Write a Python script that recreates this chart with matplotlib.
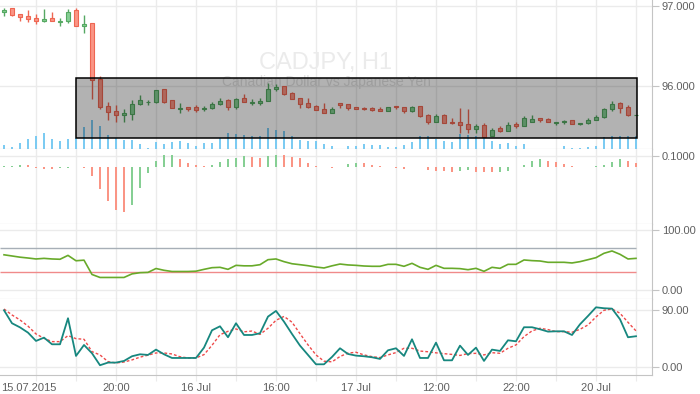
import numpy as np
import matplotlib
matplotlib.use("Agg")
import matplotlib.pyplot as plt
from matplotlib.patches import Rectangle
from matplotlib.ticker import FormatStrFormatter
import matplotlib.transforms as mtransforms

plt.rcParams["font.family"] = ["Liberation Sans", "DejaVu Sans"]

# CADJPY H1 candles
opens = [96.921, 96.971, 96.896, 96.871, 96.846, 96.809, 96.846, 96.803, 96.809, 96.946,
         96.746, 96.784, 96.084, 95.746, 95.684, 95.634, 95.646, 95.771, 95.796, 95.796,
         95.959, 95.821, 95.718, 95.734, 95.734, 95.709, 95.721, 95.771, 95.821, 95.734,
         95.846, 95.793, 95.784, 95.809, 95.959, 95.996, 95.909, 95.846, 95.784, 95.746,
         95.709, 95.659, 95.784, 95.771, 95.734, 95.721, 95.721, 95.709, 95.684, 95.746,
         95.734, 95.684, 95.746, 95.634, 95.546, 95.634, 95.546, 95.546, 95.521, 95.459,
         95.509, 95.371, 95.471, 95.434, 95.521, 95.496, 95.546, 95.596, 95.584, 95.543,
         95.546, 95.571, 95.521, 95.534, 95.571, 95.609, 95.709, 95.784, 95.734, 95.634]
highs = [96.971, 96.971, 96.896, 96.946, 96.896, 96.959, 96.921, 96.846, 96.959, 96.971,
         96.884, 96.784, 96.121, 95.796, 95.759, 95.709, 95.821, 95.884, 95.821, 95.946,
         95.959, 95.821, 95.784, 95.734, 95.759, 95.746, 95.796, 95.846, 95.834, 95.846,
         95.896, 95.834, 95.846, 96.034, 96.021, 95.996, 95.921, 95.846, 95.846, 95.759,
         95.784, 95.734, 95.784, 95.771, 95.734, 95.734, 95.734, 95.734, 95.734, 95.746,
         95.734, 95.746, 95.746, 95.646, 95.646, 95.646, 95.596, 95.721, 95.709, 95.521,
         95.534, 95.471, 95.496, 95.546, 95.546, 95.621, 95.634, 95.596, 95.596, 95.546,
         95.571, 95.571, 95.534, 95.596, 95.634, 95.721, 95.809, 95.796, 95.759, 95.634]
lows = [96.871, 96.871, 96.816, 96.796, 96.771, 96.796, 96.809, 96.746, 96.784, 96.746,
        96.659, 95.841, 95.709, 95.579, 95.546, 95.546, 95.571, 95.759, 95.759, 95.784,
        95.784, 95.721, 95.659, 95.684, 95.671, 95.684, 95.709, 95.759, 95.696, 95.709,
        95.796, 95.759, 95.759, 95.809, 95.934, 95.884, 95.834, 95.721, 95.721, 95.696,
        95.659, 95.659, 95.721, 95.696, 95.709, 95.696, 95.684, 95.684, 95.684, 95.709,
        95.659, 95.671, 95.609, 95.521, 95.546, 95.534, 95.521, 95.409, 95.409, 95.409,
        95.366, 95.371, 95.421, 95.434, 95.471, 95.496, 95.546, 95.546, 95.546, 95.509,
        95.521, 95.521, 95.509, 95.521, 95.571, 95.596, 95.684, 95.659, 95.629, 95.634]
closes = [96.946, 96.884, 96.859, 96.834, 96.809, 96.834, 96.809, 96.809, 96.921, 96.746,
          96.771, 96.071, 95.734, 95.671, 95.634, 95.659, 95.771, 95.821, 95.799, 95.946,
          95.806, 95.721, 95.721, 95.712, 95.696, 95.721, 95.771, 95.809, 95.734, 95.834,
          95.796, 95.796, 95.809, 95.959, 95.984, 95.896, 95.834, 95.771, 95.734, 95.696,
          95.659, 95.709, 95.759, 95.721, 95.709, 95.709, 95.696, 95.684, 95.734, 95.734,
          95.684, 95.734, 95.621, 95.546, 95.621, 95.534, 95.534, 95.509, 95.459, 95.496,
          95.366, 95.446, 95.434, 95.509, 95.496, 95.596, 95.584, 95.571, 95.546, 95.546,
          95.559, 95.521, 95.534, 95.571, 95.609, 95.709, 95.771, 95.721, 95.634, 95.634]
volumes = [40, 20, 60, 100, 130, 160, 100, 80, 100, 110,
           220, 290, 230, 140, 110, 90, 90, 50, 10, 70,
           50, 70, 80, 60, 30, 60, 60, 110, 160, 150,
           140, 130, 130, 210, 190, 180, 130, 90, 80, 80,
           50, 30, 0, 30, 30, 50, 40, 40, 20, 20,
           40, 70, 130, 130, 100, 80, 70, 150, 140, 130,
           120, 80, 50, 60, 30, 50, 0, 0, 0, 0,
           30, 10, 10, 20, 30, 120, 130, 130, 130, 130]

# lower panels
hist = [0.01, 0.012, 0.02, 0.018, -0.01, -0.012, -0.013, -0.01, -0.008, 0.0,
        -0.01, -0.08, -0.19, -0.30, -0.38, -0.40, -0.33, -0.18, -0.05, 0.06,
        0.11, 0.112, 0.07, 0.04, 0.02, 0.01, 0.02, 0.05, 0.07, 0.08,
        0.10, 0.09, 0.08, 0.10, 0.11, 0.105, 0.09, 0.08, 0.04, 0.01,
        0.0, -0.01, 0.005, 0.03, 0.04, 0.038, 0.02, 0.01, 0.0, -0.01,
        -0.012, 0.0, 0.0, -0.02, -0.03, -0.032, -0.04, -0.035, -0.02, -0.04,
        -0.042, -0.045, -0.04, -0.03, 0.0, 0.02, 0.06, 0.07, 0.06, 0.05,
        0.03, 0.01, 0.0, 0.0, 0.01, 0.02, 0.05, 0.07, 0.06, 0.04]
rsi = [59, 57, 55, 53.6, 52, 53, 52, 51.5, 58, 49,
       50, 26, 21, 21, 21, 21, 27, 29, 29.5, 36,
       33, 31, 31, 31, 31.5, 34.6, 37.4, 38, 34.6, 41.3,
       40.5, 40.5, 42.4, 50.8, 52, 47.5, 44, 42.4, 40.7, 38.5,
       36.9, 40.5, 43.5, 42, 41.3, 40.2, 39.7, 39.7, 43, 43,
       39.7, 44.7, 38, 34.6, 41.3, 36.3, 36.3, 35.8, 34, 36.3,
       31.3, 38, 36.3, 43, 43, 50.3, 49.2, 48.6, 46.4, 46.4,
       46.4, 45.3, 47.5, 50.8, 54.2, 61.5, 65.4, 59.8, 52, 53]
stoch_k = [90, 69.5, 63, 54.7, 41.6, 46.8, 36.3, 36.3, 77.4, 17.9,
           35.2, 22.1, 3.2, 7.4, 7.4, 10, 17.4, 20.5, 19.5, 27.9,
           20.5, 14.7, 14.7, 14.7, 14.7, 31, 58.4, 64.7, 47.4, 69.5,
           51, 51, 53.7, 80, 89, 72, 52.6, 34.2, 19.5, 4.7,
           4.7, 16.3, 30, 21, 18.4, 17.4, 15.8, 13.2, 26.8, 30,
           17.9, 44.2, 14.7, 14.7, 38.9, 11, 11, 34.2, 19.5, 31,
           10, 27.9, 25.8, 42.6, 41, 63.2, 63.2, 60, 56.3, 56.8,
           56.8, 51, 67.9, 81, 94.7, 93.2, 92.6, 75.8, 47.4, 49]
stoch_d = [92, 82.6, 74.7, 65, 52.6, 45.8, 40.5, 40.5, 50, 45.2,
           44.2, 24.7, 19.5, 8.9, 6.8, 8.3, 11.6, 16, 19.1, 22.6,
           22.6, 21, 16.6, 14.7, 14.7, 20, 34.7, 51.4, 56.8, 60.5,
           56, 57.2, 51.9, 61.6, 74.2, 80.3, 71.2, 53, 35.4, 19.5,
           9.6, 8.6, 17, 22.4, 23.7, 19.5, 16.8, 15.3, 19.5, 23.2,
           30, 30, 25.6, 24.5, 22.8, 21.5, 20.3, 18.7, 21.6, 22,
           19.5, 23, 22.1, 30, 35.3, 48.4, 57.4, 61.6, 59.5, 56.3,
           56.3, 55.3, 60, 66.8, 79.5, 90, 92.1, 85.3, 71, 57.4]

time_labels = {4: "15.07.2015", 14: "20:00", 24: "16 Jul", 34: "16:00",
               44: "17 Jul", 54: "12:00", 64: "22:00", 74: "20 Jul"}

# grey rectangle drawn on the chart (x in bars, y in price)
box_x0, box_x1 = 9, 79.1
box_y0, box_y1 = 95.354, 96.096

GREEN, GREEN_EDGE = "#86cf94", "#55a862"
RED, RED_EDGE = "#fa9585", "#ee6652"
GRID = "#ebebeb"
AXIS = "#c4c4c4"
TXT = "#606060"

W, H = 700, 394
fig = plt.figure(figsize=(7, 3.94), dpi=100)


def rect(top, bottom):
    return [0, 1 - bottom / H, 652 / W, (bottom - top) / H]


x = np.arange(len(closes))
grid_idx = list(range(4, len(closes), 5))
xlim = (-0.5, 81)


def style(ax, show_bottom=True):
    for s in ("top", "left"):
        ax.spines[s].set_visible(False)
    ax.spines["right"].set_color(AXIS)
    ax.spines["bottom"].set_color(AXIS)
    ax.spines["bottom"].set_visible(show_bottom)
    ax.yaxis.tick_right()
    ax.tick_params(axis="y", length=5, color=AXIS, labelcolor=TXT, labelsize=8, pad=2)
    ax.tick_params(axis="x", length=0, labelbottom=False)
    ax.set_xlim(*xlim)
    ax.set_xticks(grid_idx)
    ax.set_axisbelow(True)


# volume sits in its own axes underneath the price axes
ax_vol = fig.add_axes(rect(0, 149))
ax_vol.set_xlim(*xlim)
ax_vol.set_xticks(grid_idx)
ax_vol.tick_params(length=0, labelbottom=False, labelleft=False)
ax_vol.set_yticks([])
for s in ax_vol.spines.values():
    s.set_visible(False)
ax_vol.grid(axis="x", color=GRID, lw=1)
ax_vol.set_axisbelow(True)
ax_vol.bar(x, volumes, width=0.15, color="#7ccbf2", zorder=2)
ax_vol.set_ylim(0, 1490)

ax = fig.add_axes(rect(0, 149))
ax.patch.set_visible(False)
style(ax)
ax.set_ylim(95.2125, 97.075)
ax.set_yticks([96, 97])
ax.yaxis.set_major_formatter(FormatStrFormatter("%.3f"))
ax.grid(axis="y", color=GRID, lw=1)

o = np.array(opens)
c = np.array(closes)
up = c >= o
fills = [GREEN if u else RED for u in up]
edges = [GREEN_EDGE if u else RED_EDGE for u in up]
ax.vlines(x, lows, highs, colors=edges, lw=1, zorder=2)
ax.bar(x, np.abs(c - o), bottom=np.minimum(o, c), width=0.52, color=fills,
       edgecolor=edges, lw=0.8, zorder=3)

ax.text(0.5, 0.577, "CADJPY, H1", transform=ax.transAxes, ha="center", va="center",
        fontsize=17, color="#ebebeb", zorder=1)
ax.text(0.5, 0.45, "Canadian Dollar vs Japanese Yen", transform=ax.transAxes,
        ha="center", va="center", fontsize=10, color="#e2e2e2", zorder=1)

ax.add_patch(Rectangle((box_x0, box_y0), box_x1 - box_x0, box_y1 - box_y0,
                       facecolor=(0, 0, 0, 0.3), edgecolor="black", lw=1.1, zorder=5))

# histogram panel
ax_h = fig.add_axes(rect(149, 224))
style(ax_h)
ax_h.set_ylim(-0.502, 0.162)
ax_h.set_yticks([0.1])
ax_h.yaxis.set_major_formatter(FormatStrFormatter("%.4f"))
ax_h.grid(color=GRID, lw=1)
hv = np.array(hist)
rising = np.concatenate([[True], np.diff(hv) >= 0])
ax_h.bar(x, hv, width=0.17, color=[GREEN if r else RED for r in rising], zorder=2)

# oscillator panel
ax_r = fig.add_axes(rect(224, 299))
style(ax_r)
ax_r.set_ylim(-15.1, 110.6)
ax_r.set_yticks([0, 100])
ax_r.yaxis.set_major_formatter(FormatStrFormatter("%.2f"))
ax_r.grid(color=GRID, lw=1)
ax_r.hlines(70, -0.5, x[-1], color="#a7afb7", lw=1, zorder=2)
ax_r.hlines(30, -0.5, x[-1], color="#f08a8a", lw=1, zorder=2)
ax_r.plot(x, rsi, color="#68aa2a", lw=1.2, zorder=3)

# stochastic panel
ax_s = fig.add_axes(rect(299, 375))
style(ax_s)
ax_s.set_ylim(-12.2, 107.8)
ax_s.set_yticks([0, 90])
ax_s.yaxis.set_major_formatter(FormatStrFormatter("%.2f"))
ax_s.grid(color=GRID, lw=1)
ax_s.plot(x, stoch_d, color="#ee4a4a", lw=1, ls=(0, (2, 1.5)), zorder=2)
ax_s.plot(x, stoch_k, color="#17877f", lw=1.3, zorder=3)
ax_s.set_xticklabels([time_labels.get(i, "") for i in grid_idx])
ax_s.tick_params(axis="x", length=4, color=GRID, labelbottom=True,
                 labelcolor=TXT, labelsize=8, pad=2)
first = ax_s.get_xticklabels()[0]
first.set_transform(first.get_transform() +
                    mtransforms.ScaledTranslation(-0.07, 0, fig.dpi_scale_trans))

fig.savefig("out.png", dpi=100)
